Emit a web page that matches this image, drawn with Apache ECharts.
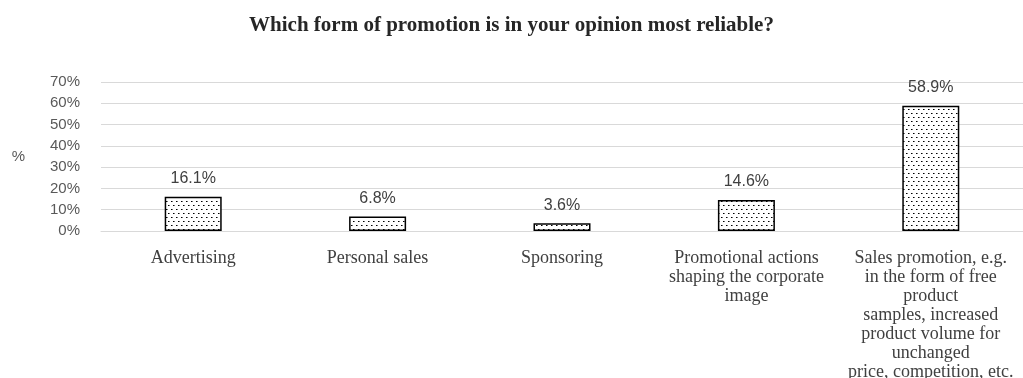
<!DOCTYPE html>
<html>
<head>
<meta charset="utf-8">
<script src="https://cdn.jsdelivr.net/npm/echarts@6/dist/echarts.min.js"></script>
<style>
  html, body { margin: 0; padding: 0; background: #ffffff; }
  #chart { width: 1023px; height: 378px; }
</style>
</head>
<body>
<div id="chart"></div>
<script>
// Survey answers: which form of promotion is considered most reliable
const categories = [
  'Advertising',
  'Personal sales',
  'Sponsoring',
  'Promotional actions\nshaping the corporate\nimage',
  'Sales promotion, e.g.\nin the form of free\nproduct\nsamples, increased\nproduct volume for\nunchanged\nprice, competition, etc.'
];
const shares = [16.1, 6.8, 3.6, 14.6, 58.9];
const tickValues = [0, 10, 20, 30, 40, 50, 60, 70];

// Dotted fill: staggered black dots on white
function dotPattern() {
  const c = document.createElement('canvas');
  c.width = 10; c.height = 8;
  const ctx = c.getContext('2d');
  ctx.fillStyle = '#ffffff';
  ctx.fillRect(0, 0, 10, 8);
  ctx.fillStyle = '#000000';
  ctx.fillRect(1, 1, 1, 1);
  ctx.fillRect(6, 1, 1, 1);
  ctx.fillRect(3, 5, 1, 1);
  ctx.fillRect(8, 5, 1, 1);
  ctx.fillStyle = '#777777';
  ctx.fillRect(2, 1, 1, 1);
  ctx.fillRect(7, 1, 1, 1);
  ctx.fillRect(4, 5, 1, 1);
  ctx.fillRect(9, 5, 1, 1);
  return c;
}

const chart = echarts.init(document.getElementById('chart'), null, { renderer: 'canvas' });
chart.setOption({
  animation: false,
  backgroundColor: '#ffffff',
  title: {
    text: 'Which form of promotion is in your opinion most reliable?',
    left: 'center',
    top: 10,
    textStyle: {
      fontFamily: 'Liberation Serif',
      fontWeight: 'bold',
      fontSize: 21,
      color: '#262626'
    }
  },
  grid: { left: 101, right: 0, top: 82, bottom: 147, containLabel: false, outerBoundsMode: 'none' },
  xAxis: {
    type: 'category',
    data: categories,
    axisLine: { show: true, lineStyle: { color: '#d9d9d9', width: 1 } },
    axisTick: { show: false },
    axisLabel: {
      interval: 0,
      margin: 18,
      fontFamily: 'Liberation Serif',
      fontSize: 18,
      lineHeight: 19,
      color: '#404040',
      align: 'center'
    }
  },
  yAxis: {
    type: 'value',
    min: 0,
    max: 70,
    interval: 10,
    name: '%',
    nameLocation: 'middle',
    nameRotate: 0,
    nameGap: 76,
    nameTextStyle: { fontFamily: 'Liberation Sans', fontSize: 15, color: '#595959' },
    axisLine: { show: false },
    axisTick: { show: false },
    splitLine: { lineStyle: { color: '#d9d9d9', width: 1 } },
    axisLabel: {
      margin: 21,
      fontFamily: 'Liberation Sans',
      fontSize: 15,
      color: '#595959',
      formatter: v => tickValues.includes(v) ? v + '%' : ''
    }
  },
  series: [{
    type: 'bar',
    data: shares,
    barWidth: 57,
    itemStyle: {
      color: { image: dotPattern(), repeat: 'repeat' },
      borderColor: '#000000',
      borderWidth: 1.5
    },
    label: {
      show: true,
      position: 'top',
      distance: 10,
      fontFamily: 'Liberation Sans',
      fontSize: 16,
      color: '#404040',
      formatter: p => p.value.toFixed(1) + '%'
    }
  }]
});
</script>
</body>
</html>
